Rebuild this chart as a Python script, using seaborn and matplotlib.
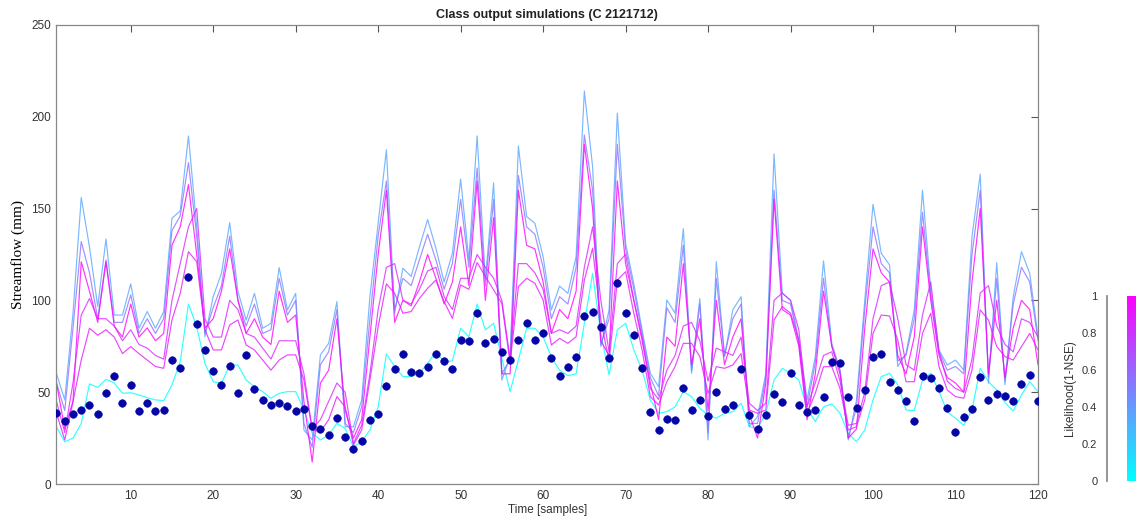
# class output simulations - streamflow vs likelihood

import matplotlib
matplotlib.use("Agg")
import matplotlib.pyplot as plt
import numpy as np
import pandas as pd
import seaborn as sns

samples = list(range(1, 121))

observed = [
    38.7, 34.5, 38, 40.3, 43, 38, 49.7, 59, 44, 54,
    40, 44, 39.6, 40.5, 67.4, 63, 112.7, 87, 73, 61.7,
    54, 64.5, 49.4, 70, 52, 46, 43, 44, 42.7, 39.8,
    41, 31.8, 30, 26.7, 35.8, 25.4, 18.9, 23.4, 34.7, 38,
    53.6, 62.5, 71, 61, 60.3, 63.5, 70.8, 67, 62.5, 78.4,
    78, 93.3, 77, 79, 71.9, 67.5, 78.4, 87.9, 78.2, 82,
    68.4, 58.6, 63.9, 69, 91.5, 93.9, 85.3, 68.4, 109.3, 93.3,
    81, 63.4, 39, 29.4, 35.4, 34.9, 52.3, 40.3, 45.6, 37,
    50.1, 40.7, 43, 62.8, 37.6, 29.8, 37.6, 48.8, 44.5, 60.3,
    43, 39.2, 40.3, 47.4, 66.3, 65.9, 47.4, 41.4, 51.2, 69.4,
    71, 55.6, 51, 45.2, 34.3, 58.6, 57.9, 52.1, 41.4, 28.5,
    36.5, 41, 58.1, 45.6, 49, 47.9, 45.4, 54.6, 59.2, 45.4,
]

sim_cyan = [
    31, 23, 25, 33, 54.5, 52.6, 57, 55, 49.4, 49.7,
    48.5, 47, 45.8, 45.4, 54, 66.6, 98, 85.7, 65.7, 55.7,
    54.8, 64.8, 64.8, 56.6, 53, 50.3, 46.7, 49.4, 50.3, 50.3,
    40.3, 27.6, 24, 26.7, 33, 30.3, 20.3, 23, 29.4, 42,
    70.8, 64, 58.5, 58.5, 60.3, 65.7, 72, 66.6, 67, 84.8,
    80.2, 98, 83.9, 87.5, 68.4, 50.3, 67.5, 84.8, 84.8, 80.2,
    69, 62, 59, 60, 87.5, 114.7, 82, 59.4, 84, 87.5,
    73, 62, 45.8, 38.5, 39.4, 42, 50.3, 47.6, 41.2, 37.6,
    35.8, 38.5, 39.4, 44, 31.2, 30.3, 38.5, 56.6, 63, 60.3,
    56.6, 41.2, 34, 42, 43.6, 38.5, 27.6, 23, 29.4, 45.8,
    58.5, 60.3, 54, 40.3, 40, 56.6, 60.3, 50.3, 39.4, 35.8,
    32, 40.3, 63, 55.7, 51.2, 44.3, 39.8, 48.5, 55.7, 50.3,
]

sim_blue = [
    60, 45.8, 93, 156, 129, 96.6, 133.4, 92, 92, 109,
    84.8, 93.9, 84.8, 93.9, 144.7, 148.7, 189.5, 140, 80.2, 102,
    114.7, 142.3, 104.8, 89.3, 103.8, 84.8, 87.5, 117.8, 94.8, 103.8,
    29.4, 24, 70.3, 76.6, 99.3, 31.2, 31.2, 45.8, 102, 142,
    182, 93, 117.5, 113, 129, 144, 128.4, 110, 125.6, 166,
    122, 189.5, 111, 164, 56.6, 69.4, 184, 145.6, 142, 123.8,
    94.8, 107.8, 103.8, 123.8, 214, 172.8, 74.8, 94.8, 201.9, 131,
    109, 84, 60.3, 53, 100.2, 93, 139, 60.3, 101, 24,
    121, 69.4, 94.8, 102, 31.2, 36.7, 60.3, 179.7, 103.8, 100,
    78.4, 45.8, 69.4, 121.5, 76.6, 62, 24, 45.8, 100, 152.3,
    125.6, 119.3, 64, 71, 94.8, 160, 105.7, 73, 64.8, 67.5,
    62, 134.7, 168.7, 54.8, 120.5, 54, 102, 126.5, 114.7, 80.2,
]

sim_lavender = [
    55, 40, 85, 132, 115, 90, 122, 88, 88, 103,
    82, 90, 82, 90, 138, 146, 175, 135, 82, 96,
    108, 135, 100, 86, 98, 82, 84, 112, 92, 100,
    33, 20, 65, 72, 95, 33, 28, 42, 90, 135,
    165, 95, 112, 108, 122, 136, 122, 106, 120, 155,
    118, 172, 108, 155, 60, 68, 168, 140, 136, 118,
    90, 102, 98, 118, 190, 160, 76, 90, 185, 128,
    106, 82, 58, 48, 96, 88, 130, 62, 98, 28,
    112, 70, 90, 98, 33, 33, 58, 160, 100, 98,
    77, 42, 66, 112, 75, 62, 25, 42, 95, 140,
    120, 115, 67, 70, 90, 148, 103, 72, 62, 64,
    60, 125, 160, 58, 112, 56, 98, 118, 110, 78,
]

sim_magenta = [
    55, 30, 45, 121, 105, 88, 121, 86, 80, 98,
    80, 85, 78, 82, 130, 140, 163, 125, 85, 90,
    105, 128, 100, 82, 90, 80, 76, 105, 88, 92,
    45, 12, 55, 62, 90, 40, 25, 35, 80, 125,
    160, 88, 100, 97, 110, 125, 112, 98, 110, 140,
    108, 165, 100, 145, 60, 60, 160, 130, 128, 110,
    82, 95, 90, 105, 185, 150, 78, 70, 165, 120,
    100, 78, 55, 35, 80, 75, 120, 65, 90, 40,
    100, 65, 80, 90, 38, 25, 55, 155, 95, 92,
    75, 35, 60, 105, 75, 60, 25, 30, 85, 128,
    115, 110, 70, 60, 80, 140, 100, 70, 58, 55,
    50, 110, 150, 60, 100, 58, 85, 100, 95, 65,
]

sim_pink = [
    45, 28, 55, 92, 101, 90, 90, 86, 78, 84,
    76, 74, 70, 68, 100, 120, 140, 150, 90, 80,
    80, 100, 95, 82, 80, 74, 68, 78, 78, 78,
    60, 30, 35, 45, 55, 50, 22, 32, 60, 95,
    118, 120, 100, 98, 106, 116, 118, 102, 95, 112,
    112, 125, 118, 112, 100, 68, 120, 120, 115, 106,
    82, 84, 82, 86, 118, 140, 100, 72, 120, 125,
    100, 80, 52, 46, 62, 70, 86, 88, 78, 56,
    74, 72, 70, 80, 44, 40, 44, 100, 104, 100,
    84, 42, 55, 70, 72, 56, 32, 33, 50, 90,
    108, 110, 90, 65, 62, 92, 110, 72, 56, 52,
    50, 68, 104, 108, 86, 76, 72, 90, 88, 80,
]

sim_pink_low = [
    38.5, 24, 44.8, 67.5, 84.8, 81, 84, 80, 71, 74.8,
    71, 67.5, 64, 63, 89.3, 103.8, 126.5, 121, 84, 73,
    73, 86.6, 89.3, 75.7, 73, 67.5, 62, 67.5, 70.3, 70.3,
    56.6, 29.4, 28.5, 35, 47.6, 42, 21.2, 29.4, 56.6, 85.7,
    109, 103.8, 93, 93.9, 101, 106.6, 111, 99.3, 90.2, 108.4,
    106, 120.6, 113, 105.7, 98.4, 65.7, 107.5, 112, 109.3, 100.2,
    75.7, 79.3, 76.6, 80.2, 111, 128.4, 89.3, 66.6, 111, 115.6,
    93, 73, 47.6, 43, 55.7, 63.9, 76.6, 76.6, 69.4, 49.4,
    63.9, 63, 64.8, 71, 40.3, 38.5, 40.3, 89.3, 96.6, 93,
    78.4, 38.5, 49.4, 63.9, 63.9, 52, 29.4, 31.2, 45.8, 82,
    92, 91.5, 78.4, 55.7, 55.7, 82, 93, 63.9, 51.2, 47.6,
    46.7, 62, 94.8, 89.3, 74.8, 69.4, 67.5, 74.8, 82, 73,
]

# likelihood (1-NSE) of each simulation, used for the colour
likelihoods = [0.0, 0.35, 0.55, 1.0, 0.85, 0.9]
sim_names = ["cyan", "blue", "lavender", "magenta", "pink", "pink_low"]
sims = [sim_cyan, sim_blue, sim_lavender, sim_magenta, sim_pink, sim_pink_low]

sns.set_theme(style="white")
plt.rcParams["font.family"] = ["Liberation Sans", "DejaVu Sans"]

cmap = plt.get_cmap("cool")

fig = plt.figure(figsize=(11.39, 5.2), dpi=100)
ax = fig.add_axes([0.0496, 0.0692, 0.8617, 0.883])

df = pd.DataFrame({"sample": samples})
for name, vals, lik in zip(sim_names, sims, likelihoods):
    df[name] = vals
    sns.lineplot(data=df, x="sample", y=name, color=cmap(lik), linewidth=0.85,
                 alpha=0.8, ax=ax)

df["obs"] = observed
sns.scatterplot(data=df, x="sample", y="obs", color="#0505a5", s=30,
                edgecolor="#0505a5", linewidth=0.4, zorder=5, ax=ax)

ax.set_xlim(1, 120)
ax.set_ylim(0, 250)
ax.set_xticks(range(10, 121, 10))
ax.set_yticks(range(0, 251, 50))
ax.tick_params(direction="in", length=5, width=0.8, colors="#555555",
               labelsize=8.5, labelcolor="#333333", top=True, right=True,
               pad=4)
for sp in ax.spines.values():
    sp.set_color("#888888")
    sp.set_linewidth(0.9)

ax.set_xlabel("Time [samples]", fontsize=8.5, color="#333333", labelpad=2)
ax.set_ylabel("Streamflow (mm)", fontsize=11, color="black",
              family=["Liberation Serif", "DejaVu Serif"])
ax.yaxis.set_label_coords(-0.032, 0.5)
ax.set_title("Class output simulations (C 2121712)", fontsize=9,
             fontweight="bold", color="#222222", pad=5,
             family=["Liberation Sans Narrow", "Liberation Sans"])

# colorbar, scale line separated from the bar like in matlab
cax = fig.add_axes([1107 / 1139, 0.075, 29 / 1139, 0.356])
grad = np.linspace(0, 1, 256).reshape(-1, 1)
cax.imshow(grad, cmap=cmap, aspect="auto", origin="lower",
           extent=[0.69, 0.97, 0, 1])
cax.set_xlim(0, 1)
cax.set_ylim(0, 1)
cax.set_xticks([])
cax.set_yticks([0, 0.2, 0.4, 0.6, 0.8, 1])
cax.set_yticklabels(["0", "0.2", "0.4", "0.6", "0.8", "1"])
cax.tick_params(axis="y", direction="out", length=4, colors="#555555",
                labelsize=8, labelcolor="#333333", pad=3)
for k in ["top", "right", "bottom"]:
    cax.spines[k].set_visible(False)
cax.spines["left"].set_color("#888888")
cax.set_ylabel("Likelihood(1-NSE)", fontsize=8.5, color="#333333", labelpad=4)

fig.savefig("out.png", dpi=100)
